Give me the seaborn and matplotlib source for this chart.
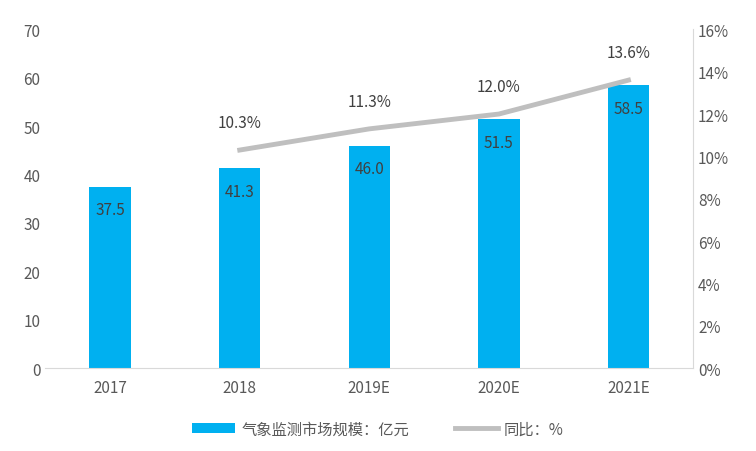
import matplotlib
matplotlib.use("Agg")
import matplotlib.pyplot as plt
import seaborn as sns
import pandas as pd

years = ["2017", "2018", "2019E", "2020E", "2021E"]
market = [37.5, 41.3, 46.0, 51.5, 58.5]
growth_years = ["2018", "2019E", "2020E", "2021E"]
growth = [10.3, 11.3, 12.0, 13.6]

plt.rcParams["font.family"] = ["Noto Sans CJK SC"]
fig = plt.figure(figsize=(7.56, 4.52), dpi=100)
ax = fig.add_axes([0.06, 0.183, 0.857, 0.75])
df = pd.DataFrame({"year": years, "v": market})
sns.barplot(data=df, x="year", y="v", color="#00B0F0", saturation=1, width=0.32, ax=ax,
            label="气象监测市场规模：亿元")
ax.set_ylim(0, 70)
ax.set_yticks(range(0, 71, 10))
ax.set_xlabel(""); ax.set_ylabel("")
for i, v in enumerate(market):
    ax.text(i, v - 4.8, f"{v:.1f}", ha="center", va="center", fontsize=11, color="#404040")
ax2 = ax.twinx()
xs = [years.index(y) for y in growth_years]
ax2.plot(xs, growth, color="#BFBFBF", lw=3.5, label="同比：%")
for x, g in zip(xs, growth):
    ax2.text(x, g + 1.3, f"{g:.1f}%", ha="center", va="center", fontsize=11, color="#404040")
ax2.set_ylim(0, 16)
ax2.set_yticks(range(0, 17, 2))
ax2.set_yticklabels([f"{t}%" for t in range(0, 17, 2)])
ax.set_xlim(-0.5, 4.5)
for a in (ax, ax2):
    for s in a.spines.values():
        s.set_visible(False)
    a.tick_params(length=0, labelsize=11, colors="#595959")
ax.spines["bottom"].set_visible(True); ax.spines["bottom"].set_color("#D9D9D9")
ax2.spines["right"].set_visible(True); ax2.spines["right"].set_color("#D9D9D9")
ax.tick_params(axis="x", pad=8)
h1, l1 = ax.get_legend_handles_labels()
h2, l2 = ax2.get_legend_handles_labels()
if ax.get_legend() is not None:
    ax.get_legend().remove()
fig.legend(h1 + h2, l1 + l2, loc="lower center", ncol=2, frameon=False, fontsize=11,
           bbox_to_anchor=(0.5, 0.0), handlelength=2.8, handletextpad=0.4, columnspacing=3,
           labelcolor="#595959")
fig.savefig("out.png", dpi=100)
